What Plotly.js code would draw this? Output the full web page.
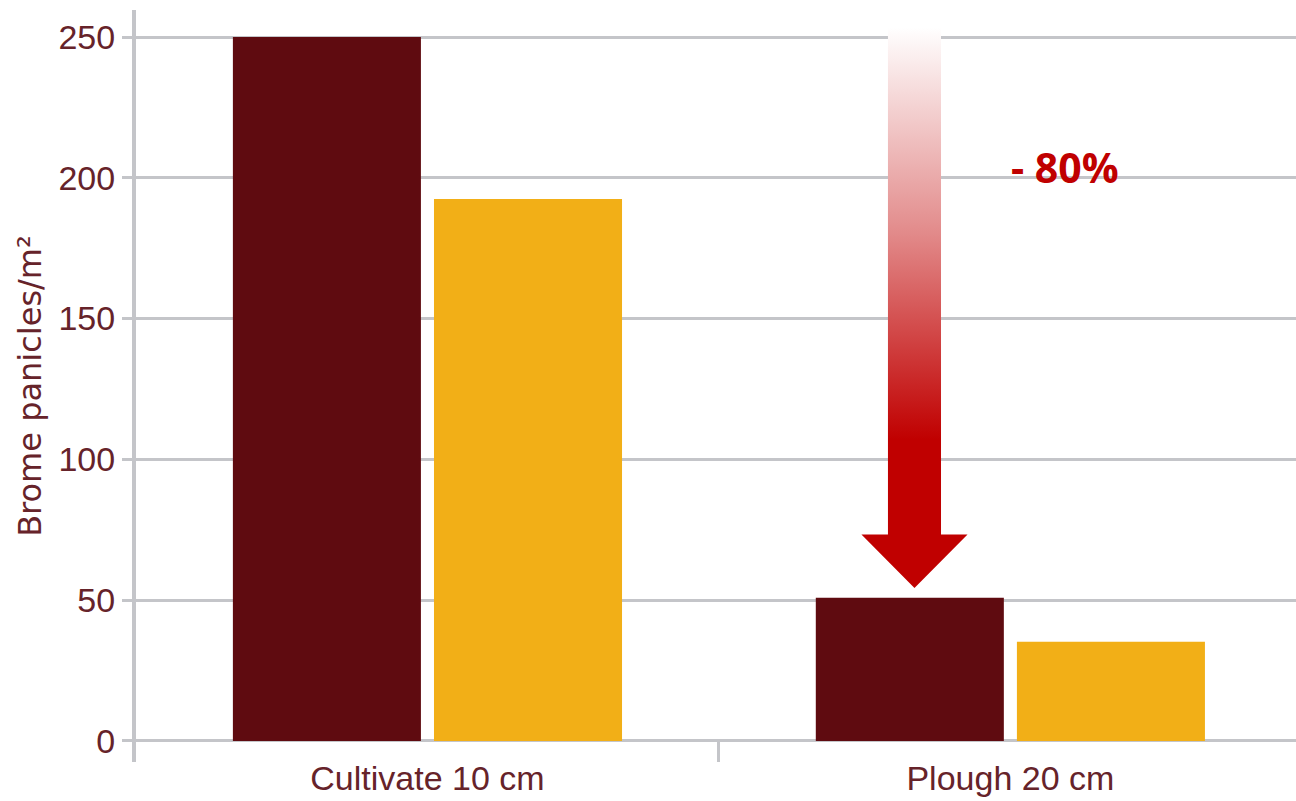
<!DOCTYPE html>
<html>
<head>
<meta charset="utf-8">
<script src="https://cdn.plot.ly/plotly-3.0.1.min.js"></script>
<style>
  html, body { margin: 0; padding: 0; background: #ffffff; }
  #chart { width: 1296px; height: 801px; }
</style>
</head>
<body>
<div id="chart"></div>
<script>
// ---- data ----
const categories = ['Cultivate 10 cm', 'Plough 20 cm'];
const seriesDark = [250, 50.8];
const seriesYellow = [192.5, 35.2];
const yTickVals = [0, 50, 100, 150, 200, 250];
const yTitle = 'Brome panicles/m²';
const reductionLabel = '- 80%';

// ---- styling ----
const textColor = '#66232a';
const gridColor = '#c4c5c9';
const darkColor = '#5f0b10';
const yellowColor = '#f2af17';
const arrowRed = '#c00000';
const labelFont = '"Liberation Sans", Arial, Helvetica, sans-serif';
const titleFont = '"DejaVu Sans", "Liberation Sans", Arial, sans-serif';

// Arrow geometry derived from the bars (category index 1, first bar of group)
const groupWidth = 0.69;
const arrowX = 1 - groupWidth / 4 + 0.008;
const tipY = seriesDark[1] + 3.5;
const baseY = tipY + 19;
const topY = seriesDark[0] + 3.5;
const shaftHalf = 0.0455;
const headHalf = 0.091;

const arrowTrace = {
  type: 'scatter',
  xaxis: 'x2',
  yaxis: 'y',
  mode: 'lines',
  x: [arrowX - shaftHalf, arrowX + shaftHalf, arrowX + shaftHalf, arrowX + headHalf, arrowX,
      arrowX - headHalf, arrowX - shaftHalf, arrowX - shaftHalf],
  y: [topY, topY, baseY, baseY, tipY, baseY, baseY, topY],
  fill: 'toself',
  fillcolor: arrowRed,
  fillgradient: {
    type: 'vertical',
    start: 107,
    stop: topY,
    colorscale: [[0, arrowRed], [0.5, '#e28a8a'], [1, '#ffffff']]
  },
  line: { width: 0, color: 'rgba(0,0,0,0)' },
  hoverinfo: 'skip',
  showlegend: false
};

const data = [
  {
    type: 'bar', name: 'Series 1', x: categories, y: seriesDark,
    marker: { color: darkColor, line: { width: 0 } }, showlegend: false
  },
  {
    type: 'bar', name: 'Series 2', x: categories, y: seriesYellow,
    marker: { color: yellowColor, line: { width: 0 } }, showlegend: false
  },
  arrowTrace
];

const layout = {
  width: 1296,
  height: 801,
  margin: { l: 136, r: 0, t: 10, b: 39 },
  paper_bgcolor: '#ffffff',
  plot_bgcolor: '#ffffff',
  barmode: 'group',
  bargap: 0.31,
  bargroupgap: 0.065,
  showlegend: false,
  font: { family: labelFont, color: textColor },
  xaxis: {
    type: 'category',
    range: [-0.5, 1.49],
    showgrid: false,
    zeroline: false,
    showline: false,
    tickson: 'boundaries',
    ticks: 'inside',
    ticklen: 20,
    tickwidth: 3,
    tickcolor: gridColor,
    ticklabelstandoff: -7,
    tickfont: { family: labelFont, size: 34, color: textColor },
    fixedrange: true
  },
  xaxis2: {
    type: 'linear',
    overlaying: 'x',
    range: [-0.5, 1.49],
    visible: false,
    fixedrange: true
  },
  yaxis: {
    range: [-7.5, 259.6],
    tickvals: yTickVals,
    showgrid: true,
    gridcolor: gridColor,
    gridwidth: 3,
    zeroline: true,
    zerolinecolor: gridColor,
    zerolinewidth: 3,
    showline: true,
    linecolor: gridColor,
    linewidth: 4,
    ticks: 'outside',
    ticklen: 10,
    tickwidth: 3,
    tickcolor: gridColor,
    tickfont: { family: labelFont, size: 34, color: textColor },
    title: { text: yTitle, standoff: 8, font: { family: titleFont, size: 32, color: textColor } },
    fixedrange: true
  },
  annotations: [
    {
      xref: 'x2', yref: 'y',
      x: 1.093, y: 204,
      text: '<b>' + reductionLabel + '</b>',
      showarrow: false,
      xanchor: 'center', yanchor: 'middle',
      font: { family: '"Open Sans", "Liberation Sans", Arial, sans-serif', size: 41, color: arrowRed }
    }
  ]
};

Plotly.newPlot('chart', data, layout, { displayModeBar: false, staticPlot: true });
</script>
</body>
</html>
